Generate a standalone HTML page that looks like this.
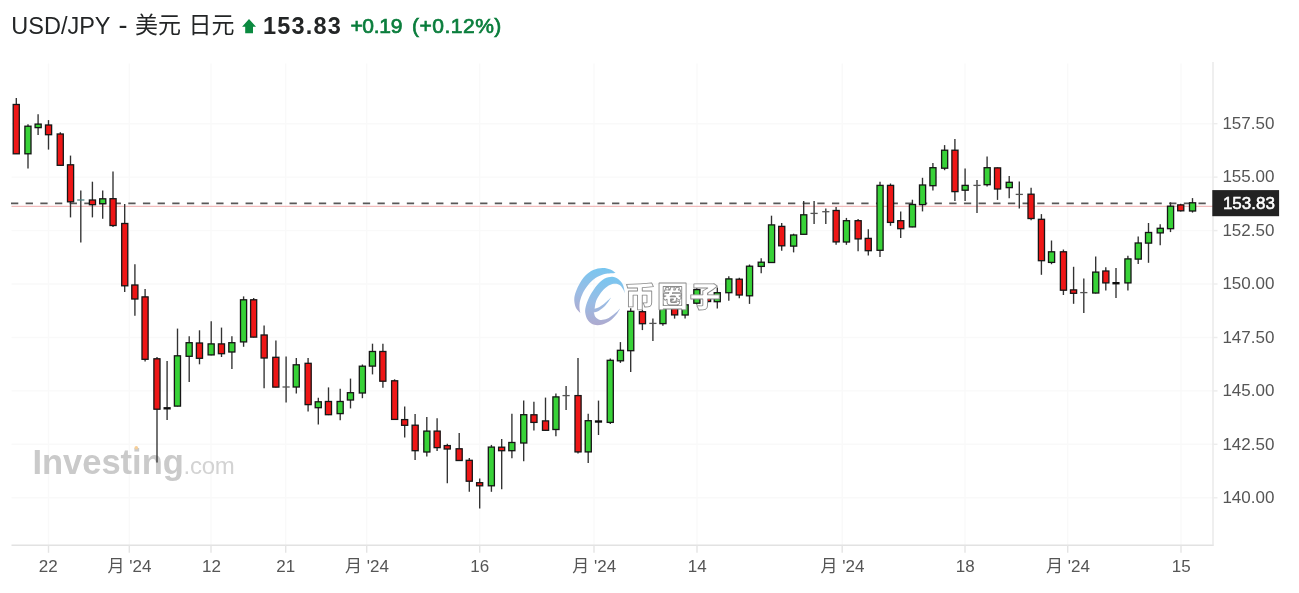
<!DOCTYPE html>
<html lang="zh"><head><meta charset="utf-8"><title>USD/JPY - 美元 日元</title>
<style>
html,body{margin:0;padding:0;background:#fff;}
body{width:1299px;height:593px;overflow:hidden;position:relative;font-family:"Liberation Sans","Noto Sans CJK SC",sans-serif;}
#hdr{position:absolute;left:0;top:0;width:1299px;height:50px;color:#232526;white-space:nowrap;}
#hdr span{position:absolute;white-space:nowrap;line-height:1;}
#t1{left:11.3px;top:14.9px;font-size:23.5px;}
#t1b{left:118.4px;top:12.2px;font-size:27px;}
#t1c{left:135px;top:14.3px;font-size:23px;}
#t1d{left:188.6px;top:14.3px;font-size:23px;}
#t2{left:263px;top:14.8px;font-size:23.5px;font-weight:bold;letter-spacing:1.2px;}
#t3{left:350.4px;top:14.5px;font-size:21px;font-weight:normal;color:#0a7d3c;letter-spacing:-0.3px;-webkit-text-stroke:0.7px #0a7d3c;}
#t4{left:412px;top:14.5px;font-size:21px;font-weight:normal;color:#0a7d3c;letter-spacing:0.5px;-webkit-text-stroke:0.7px #0a7d3c;}
svg{position:absolute;left:0;top:0;}
.ax{font-family:"Liberation Sans","Noto Sans CJK SC",sans-serif;font-size:17px;fill:#555;}
</style></head><body>
<div id="hdr"><span id="t1">USD/JPY</span><span id="t1b">-</span><span id="t1c">美元</span><span id="t1d">日元</span><span id="t2">153.83</span><span id="t3">+0.19</span><span id="t4">(+0.12%)</span></div>
<svg width="1299" height="593" viewBox="0 0 1299 593">
<defs>
<linearGradient id="lg" x1="0" y1="0" x2="0" y2="1"><stop offset="0" stop-color="#78c6f0"/><stop offset="0.55" stop-color="#9bbce4"/><stop offset="1" stop-color="#aeaacf"/></linearGradient>
<filter id="soft" x="-5%" y="-5%" width="110%" height="110%"><feGaussianBlur stdDeviation="0.5"/></filter>
</defs>
<path d="M249 18.9 L256 26.7 L253 26.7 L253 33.3 L245.2 33.3 L245.2 26.7 L242.1 26.7 Z" fill="#0b8a40"/>
<g stroke="#f9f9f9" stroke-width="1.4" fill="none">
<path d="M48.5 63.5V545.3"/>
<path d="M129.3 63.5V545.3"/>
<path d="M211 63.5V545.3"/>
<path d="M285.7 63.5V545.3"/>
<path d="M366.7 63.5V545.3"/>
<path d="M479.7 63.5V545.3"/>
<path d="M594 63.5V545.3"/>
<path d="M697 63.5V545.3"/>
<path d="M842.2 63.5V545.3"/>
<path d="M965 63.5V545.3"/>
<path d="M1067.7 63.5V545.3"/>
<path d="M1181 63.5V545.3"/>
<path d="M11.5 123.7H1213"/>
<path d="M11.5 177.1H1213"/>
<path d="M11.5 230.6H1213"/>
<path d="M11.5 284.0H1213"/>
<path d="M11.5 337.5H1213"/>
<path d="M11.5 390.9H1213"/>
<path d="M11.5 444.3H1213"/>
<path d="M11.5 497.8H1213"/>
</g>
<g stroke-width="1.4" fill="none">
<path d="M11.5 545.3H1213.7" stroke="#e2e2e2"/><path d="M1213 62V545.3" stroke="#e8e8e8"/>
<path d="M48.5 545.3V552.8" stroke="#e4e4e4"/>
<path d="M129.3 545.3V552.8" stroke="#e4e4e4"/>
<path d="M211 545.3V552.8" stroke="#e4e4e4"/>
<path d="M285.7 545.3V552.8" stroke="#e4e4e4"/>
<path d="M366.7 545.3V552.8" stroke="#e4e4e4"/>
<path d="M479.7 545.3V552.8" stroke="#e4e4e4"/>
<path d="M594 545.3V552.8" stroke="#e4e4e4"/>
<path d="M697 545.3V552.8" stroke="#e4e4e4"/>
<path d="M842.2 545.3V552.8" stroke="#e4e4e4"/>
<path d="M965 545.3V552.8" stroke="#e4e4e4"/>
<path d="M1067.7 545.3V552.8" stroke="#e4e4e4"/>
<path d="M1181 545.3V552.8" stroke="#e4e4e4"/>
<path d="M1213 123.7h4.5" stroke="#ececec"/>
<path d="M1213 177.1h4.5" stroke="#ececec"/>
<path d="M1213 230.6h4.5" stroke="#ececec"/>
<path d="M1213 284.0h4.5" stroke="#ececec"/>
<path d="M1213 337.5h4.5" stroke="#ececec"/>
<path d="M1213 390.9h4.5" stroke="#ececec"/>
<path d="M1213 444.3h4.5" stroke="#ececec"/>
<path d="M1213 497.8h4.5" stroke="#ececec"/>
</g>
<g font-family="'Liberation Sans',sans-serif" fill="#c9c9c9"><text x="32.4" y="473.7" font-size="34.5" font-weight="bold" letter-spacing="0" fill="#cacaca">Investing</text><text x="183.6" y="473.7" font-size="24" fill="#d3d3d3" letter-spacing="-0.3">.com</text></g>
<circle cx="136.3" cy="447.8" r="1.8" fill="#f7cf98"/>
<path d="M11.5 206.3H1213" stroke="#eeaaaa" stroke-width="1.0"/>
<path d="M11 203.4H1213" stroke="#585858" stroke-width="1.75" stroke-dasharray="7.3 7.36"/>
<g filter="url(#soft)">
<path d="M16.3 98.1V154.1" stroke="#303030" stroke-width="1.35"/>
<rect x="13.2" y="104.5" width="6.1" height="49.3" fill="#ee1414" stroke="#141414" stroke-width="1.3"/>
<path d="M28.0 124.2V168.5" stroke="#303030" stroke-width="1.35"/>
<rect x="24.9" y="126.2" width="6.1" height="27.6" fill="#38d238" stroke="#141414" stroke-width="1.3"/>
<path d="M38.1 114.2V135.0" stroke="#303030" stroke-width="1.35"/>
<rect x="35.1" y="124.1" width="6.1" height="3.5" fill="#38d238" stroke="#141414" stroke-width="1.3"/>
<path d="M48.5 120.1V149.6" stroke="#303030" stroke-width="1.35"/>
<rect x="45.5" y="125.0" width="6.1" height="9.7" fill="#ee1414" stroke="#141414" stroke-width="1.3"/>
<path d="M60.3 132.3V165.7" stroke="#303030" stroke-width="1.35"/>
<rect x="57.2" y="134.0" width="6.1" height="31.3" fill="#ee1414" stroke="#141414" stroke-width="1.3"/>
<path d="M70.5 155.6V217.4" stroke="#303030" stroke-width="1.35"/>
<rect x="67.5" y="164.8" width="6.1" height="37.0" fill="#ee1414" stroke="#141414" stroke-width="1.3"/>
<path d="M80.8 190.5V242.4" stroke="#303030" stroke-width="1.35"/>
<path d="M77.2 200.0H84.4" stroke="#4d7f7f" stroke-width="1.3"/>
<path d="M92.4 181.7V217.4" stroke="#303030" stroke-width="1.35"/>
<rect x="89.4" y="200.0" width="6.1" height="4.7" fill="#ee1414" stroke="#141414" stroke-width="1.3"/>
<path d="M102.7 190.5V218.7" stroke="#303030" stroke-width="1.35"/>
<rect x="99.7" y="198.8" width="6.1" height="4.9" fill="#38d238" stroke="#141414" stroke-width="1.3"/>
<path d="M113.0 171.5V227.0" stroke="#303030" stroke-width="1.35"/>
<rect x="110.0" y="198.7" width="6.1" height="26.8" fill="#ee1414" stroke="#141414" stroke-width="1.3"/>
<path d="M124.7 204.0V291.9" stroke="#303030" stroke-width="1.35"/>
<rect x="121.7" y="223.5" width="6.1" height="62.3" fill="#ee1414" stroke="#141414" stroke-width="1.3"/>
<path d="M134.9 264.2V315.7" stroke="#303030" stroke-width="1.35"/>
<rect x="131.8" y="285.0" width="6.1" height="14.0" fill="#ee1414" stroke="#141414" stroke-width="1.3"/>
<path d="M145.1 289.0V361.4" stroke="#303030" stroke-width="1.35"/>
<rect x="142.0" y="296.9" width="6.1" height="62.4" fill="#ee1414" stroke="#141414" stroke-width="1.3"/>
<path d="M157.0 356.9V462.6" stroke="#303030" stroke-width="1.35"/>
<rect x="153.9" y="358.8" width="6.1" height="50.4" fill="#ee1414" stroke="#141414" stroke-width="1.3"/>
<path d="M167.1 361.1V420.1" stroke="#303030" stroke-width="1.35"/>
<path d="M163.5 408.3H170.7" stroke="#111" stroke-width="2.4"/>
<path d="M177.5 328.6V406.5" stroke="#303030" stroke-width="1.35"/>
<rect x="174.4" y="355.8" width="6.1" height="50.3" fill="#38d238" stroke="#141414" stroke-width="1.3"/>
<path d="M189.2 336.2V381.9" stroke="#303030" stroke-width="1.35"/>
<rect x="186.1" y="342.7" width="6.1" height="13.6" fill="#38d238" stroke="#141414" stroke-width="1.3"/>
<path d="M199.5 330.3V364.3" stroke="#303030" stroke-width="1.35"/>
<rect x="196.4" y="343.0" width="6.1" height="15.3" fill="#ee1414" stroke="#141414" stroke-width="1.3"/>
<path d="M211.2 321.3V355.3" stroke="#303030" stroke-width="1.35"/>
<rect x="208.1" y="343.9" width="6.1" height="11.0" fill="#38d238" stroke="#141414" stroke-width="1.3"/>
<path d="M221.5 327.6V357.0" stroke="#303030" stroke-width="1.35"/>
<rect x="218.4" y="343.9" width="6.1" height="9.8" fill="#ee1414" stroke="#141414" stroke-width="1.3"/>
<path d="M231.9 336.2V368.9" stroke="#303030" stroke-width="1.35"/>
<rect x="228.8" y="342.7" width="6.1" height="9.3" fill="#38d238" stroke="#141414" stroke-width="1.3"/>
<path d="M243.6 296.4V346.8" stroke="#303030" stroke-width="1.35"/>
<rect x="240.5" y="299.8" width="6.1" height="42.1" fill="#38d238" stroke="#141414" stroke-width="1.3"/>
<path d="M253.7 298.1V337.5" stroke="#303030" stroke-width="1.35"/>
<rect x="250.6" y="299.8" width="6.1" height="37.3" fill="#ee1414" stroke="#141414" stroke-width="1.3"/>
<path d="M264.1 325.6V388.2" stroke="#303030" stroke-width="1.35"/>
<rect x="261.1" y="335.0" width="6.1" height="23.0" fill="#ee1414" stroke="#141414" stroke-width="1.3"/>
<path d="M275.9 340.5V387.5" stroke="#303030" stroke-width="1.35"/>
<rect x="272.8" y="357.3" width="6.1" height="29.8" fill="#ee1414" stroke="#141414" stroke-width="1.3"/>
<path d="M286.1 356.6V402.6" stroke="#303030" stroke-width="1.35"/>
<path d="M282.5 387.0H289.7" stroke="#555" stroke-width="1.3"/>
<path d="M296.3 358.1V393.4" stroke="#303030" stroke-width="1.35"/>
<rect x="293.2" y="364.8" width="6.1" height="22.2" fill="#38d238" stroke="#141414" stroke-width="1.3"/>
<path d="M308.1 358.0V411.4" stroke="#303030" stroke-width="1.35"/>
<rect x="305.1" y="363.3" width="6.1" height="41.3" fill="#ee1414" stroke="#141414" stroke-width="1.3"/>
<path d="M318.3 397.8V424.4" stroke="#303030" stroke-width="1.35"/>
<rect x="315.2" y="401.8" width="6.1" height="5.9" fill="#38d238" stroke="#141414" stroke-width="1.3"/>
<path d="M328.5 387.4V415.1" stroke="#303030" stroke-width="1.35"/>
<rect x="325.4" y="401.5" width="6.1" height="13.2" fill="#ee1414" stroke="#141414" stroke-width="1.3"/>
<path d="M340.2 388.8V420.2" stroke="#303030" stroke-width="1.35"/>
<rect x="337.1" y="401.5" width="6.1" height="12.1" fill="#38d238" stroke="#141414" stroke-width="1.3"/>
<path d="M350.5 378.6V408.4" stroke="#303030" stroke-width="1.35"/>
<rect x="347.4" y="392.7" width="6.1" height="7.3" fill="#38d238" stroke="#141414" stroke-width="1.3"/>
<path d="M362.4 364.5V398.2" stroke="#303030" stroke-width="1.35"/>
<rect x="359.3" y="366.2" width="6.1" height="26.8" fill="#38d238" stroke="#141414" stroke-width="1.3"/>
<path d="M372.5 343.7V374.4" stroke="#303030" stroke-width="1.35"/>
<rect x="369.4" y="351.5" width="6.1" height="14.6" fill="#38d238" stroke="#141414" stroke-width="1.3"/>
<path d="M382.9 343.7V387.7" stroke="#303030" stroke-width="1.35"/>
<rect x="379.8" y="351.5" width="6.1" height="29.7" fill="#ee1414" stroke="#141414" stroke-width="1.3"/>
<path d="M394.6 379.3V419.8" stroke="#303030" stroke-width="1.35"/>
<rect x="391.6" y="380.8" width="6.1" height="38.6" fill="#ee1414" stroke="#141414" stroke-width="1.3"/>
<path d="M404.7 406.6V437.5" stroke="#303030" stroke-width="1.35"/>
<rect x="401.6" y="419.6" width="6.1" height="5.7" fill="#ee1414" stroke="#141414" stroke-width="1.3"/>
<path d="M415.1 414.0V459.9" stroke="#303030" stroke-width="1.35"/>
<rect x="412.1" y="425.2" width="6.1" height="25.5" fill="#ee1414" stroke="#141414" stroke-width="1.3"/>
<path d="M426.8 417.1V456.5" stroke="#303030" stroke-width="1.35"/>
<rect x="423.8" y="431.1" width="6.1" height="20.9" fill="#38d238" stroke="#141414" stroke-width="1.3"/>
<path d="M437.1 418.3V451.1" stroke="#303030" stroke-width="1.35"/>
<rect x="434.1" y="431.1" width="6.1" height="16.5" fill="#ee1414" stroke="#141414" stroke-width="1.3"/>
<path d="M447.3 443.7V483.3" stroke="#303030" stroke-width="1.35"/>
<rect x="444.2" y="445.6" width="6.1" height="3.4" fill="#ee1414" stroke="#141414" stroke-width="1.3"/>
<path d="M459.2 433.0V460.9" stroke="#303030" stroke-width="1.35"/>
<rect x="456.1" y="448.8" width="6.1" height="11.7" fill="#ee1414" stroke="#141414" stroke-width="1.3"/>
<path d="M469.3 458.1V491.8" stroke="#303030" stroke-width="1.35"/>
<rect x="466.2" y="460.3" width="6.1" height="20.9" fill="#ee1414" stroke="#141414" stroke-width="1.3"/>
<path d="M479.7 478.4V508.4" stroke="#303030" stroke-width="1.35"/>
<rect x="476.6" y="482.7" width="6.1" height="3.1" fill="#ee1414" stroke="#141414" stroke-width="1.3"/>
<path d="M491.4 444.9V491.8" stroke="#303030" stroke-width="1.35"/>
<rect x="488.3" y="447.1" width="6.1" height="38.7" fill="#38d238" stroke="#141414" stroke-width="1.3"/>
<path d="M501.7 439.0V489.2" stroke="#303030" stroke-width="1.35"/>
<rect x="498.6" y="447.2" width="6.1" height="3.5" fill="#ee1414" stroke="#141414" stroke-width="1.3"/>
<path d="M511.9 413.7V458.2" stroke="#303030" stroke-width="1.35"/>
<rect x="508.8" y="442.5" width="6.1" height="8.2" fill="#38d238" stroke="#141414" stroke-width="1.3"/>
<path d="M523.7 400.6V461.2" stroke="#303030" stroke-width="1.35"/>
<rect x="520.7" y="414.7" width="6.1" height="28.3" fill="#38d238" stroke="#141414" stroke-width="1.3"/>
<path d="M533.9 401.8V430.4" stroke="#303030" stroke-width="1.35"/>
<rect x="530.9" y="414.8" width="6.1" height="7.6" fill="#ee1414" stroke="#141414" stroke-width="1.3"/>
<path d="M545.5 397.6V430.7" stroke="#303030" stroke-width="1.35"/>
<rect x="542.5" y="420.9" width="6.1" height="9.4" fill="#ee1414" stroke="#141414" stroke-width="1.3"/>
<path d="M555.9 393.4V436.2" stroke="#303030" stroke-width="1.35"/>
<rect x="552.9" y="396.9" width="6.1" height="32.6" fill="#38d238" stroke="#141414" stroke-width="1.3"/>
<path d="M566.1 386.1V410.1" stroke="#303030" stroke-width="1.35"/>
<path d="M562.5 395.6H569.7" stroke="#555" stroke-width="1.3"/>
<path d="M578.0 358.1V453.6" stroke="#303030" stroke-width="1.35"/>
<rect x="575.0" y="395.6" width="6.1" height="56.3" fill="#ee1414" stroke="#141414" stroke-width="1.3"/>
<path d="M588.2 413.8V462.9" stroke="#303030" stroke-width="1.35"/>
<rect x="585.2" y="420.7" width="6.1" height="31.2" fill="#38d238" stroke="#141414" stroke-width="1.3"/>
<path d="M598.5 400.6V435.0" stroke="#303030" stroke-width="1.35"/>
<path d="M594.9 421.5H602.1" stroke="#111" stroke-width="2.4"/>
<path d="M610.3 358.6V424.1" stroke="#303030" stroke-width="1.35"/>
<rect x="607.2" y="360.3" width="6.1" height="62.1" fill="#38d238" stroke="#141414" stroke-width="1.3"/>
<path d="M620.4 342.1V362.9" stroke="#303030" stroke-width="1.35"/>
<rect x="617.4" y="350.3" width="6.1" height="10.5" fill="#38d238" stroke="#141414" stroke-width="1.3"/>
<path d="M630.7 308.3V371.9" stroke="#303030" stroke-width="1.35"/>
<rect x="627.7" y="311.3" width="6.1" height="39.4" fill="#38d238" stroke="#141414" stroke-width="1.3"/>
<path d="M642.4 309.8V330.1" stroke="#303030" stroke-width="1.35"/>
<rect x="639.4" y="311.7" width="6.1" height="12.0" fill="#ee1414" stroke="#141414" stroke-width="1.3"/>
<path d="M652.9 318.4V341.1" stroke="#303030" stroke-width="1.35"/>
<path d="M649.3 323.4H656.5" stroke="#555" stroke-width="1.3"/>
<path d="M662.9 303.8V325.8" stroke="#303030" stroke-width="1.35"/>
<rect x="659.9" y="306.3" width="6.1" height="17.3" fill="#38d238" stroke="#141414" stroke-width="1.3"/>
<path d="M674.6 299.8V318.6" stroke="#303030" stroke-width="1.35"/>
<rect x="671.6" y="303.3" width="6.1" height="11.6" fill="#ee1414" stroke="#141414" stroke-width="1.3"/>
<path d="M685.1 301.8V318.6" stroke="#303030" stroke-width="1.35"/>
<rect x="682.1" y="304.8" width="6.1" height="10.2" fill="#38d238" stroke="#141414" stroke-width="1.3"/>
<path d="M696.8 287.8V304.4" stroke="#303030" stroke-width="1.35"/>
<rect x="693.8" y="289.6" width="6.1" height="13.6" fill="#38d238" stroke="#141414" stroke-width="1.3"/>
<path d="M707.5 288.3V302.9" stroke="#303030" stroke-width="1.35"/>
<rect x="704.5" y="296.8" width="6.1" height="4.7" fill="#ee1414" stroke="#141414" stroke-width="1.3"/>
<path d="M717.3 287.6V308.5" stroke="#303030" stroke-width="1.35"/>
<rect x="714.2" y="292.7" width="6.1" height="9.0" fill="#38d238" stroke="#141414" stroke-width="1.3"/>
<path d="M728.8 276.3V300.7" stroke="#303030" stroke-width="1.35"/>
<rect x="725.8" y="278.9" width="6.1" height="13.8" fill="#38d238" stroke="#141414" stroke-width="1.3"/>
<path d="M739.3 277.8V298.2" stroke="#303030" stroke-width="1.35"/>
<rect x="736.2" y="279.2" width="6.1" height="15.8" fill="#ee1414" stroke="#141414" stroke-width="1.3"/>
<path d="M749.5 264.5V303.9" stroke="#303030" stroke-width="1.35"/>
<rect x="746.5" y="266.2" width="6.1" height="29.6" fill="#38d238" stroke="#141414" stroke-width="1.3"/>
<path d="M761.2 258.3V273.3" stroke="#303030" stroke-width="1.35"/>
<rect x="758.2" y="262.2" width="6.1" height="4.2" fill="#38d238" stroke="#141414" stroke-width="1.3"/>
<path d="M771.5 215.7V262.9" stroke="#303030" stroke-width="1.35"/>
<rect x="768.5" y="224.9" width="6.1" height="37.6" fill="#38d238" stroke="#141414" stroke-width="1.3"/>
<path d="M781.7 223.0V250.7" stroke="#303030" stroke-width="1.35"/>
<rect x="778.7" y="226.4" width="6.1" height="19.4" fill="#ee1414" stroke="#141414" stroke-width="1.3"/>
<path d="M793.6 233.7V252.4" stroke="#303030" stroke-width="1.35"/>
<rect x="790.6" y="235.0" width="6.1" height="11.1" fill="#38d238" stroke="#141414" stroke-width="1.3"/>
<path d="M803.7 201.0V234.6" stroke="#303030" stroke-width="1.35"/>
<rect x="800.7" y="214.8" width="6.1" height="19.5" fill="#38d238" stroke="#141414" stroke-width="1.3"/>
<path d="M814.1 201.0V224.1" stroke="#303030" stroke-width="1.35"/>
<path d="M810.5 213.4H817.7" stroke="#555" stroke-width="1.3"/>
<path d="M825.8 208.6V224.1" stroke="#303030" stroke-width="1.35"/>
<path d="M822.2 211.7H829.4" stroke="#555" stroke-width="1.3"/>
<path d="M836.1 206.9V244.8" stroke="#303030" stroke-width="1.35"/>
<rect x="833.1" y="210.5" width="6.1" height="31.4" fill="#ee1414" stroke="#141414" stroke-width="1.3"/>
<path d="M846.4 217.9V244.8" stroke="#303030" stroke-width="1.35"/>
<rect x="843.4" y="220.7" width="6.1" height="21.3" fill="#38d238" stroke="#141414" stroke-width="1.3"/>
<path d="M858.1 219.1V251.2" stroke="#303030" stroke-width="1.35"/>
<rect x="855.1" y="220.7" width="6.1" height="18.2" fill="#ee1414" stroke="#141414" stroke-width="1.3"/>
<path d="M868.3 229.3V255.5" stroke="#303030" stroke-width="1.35"/>
<rect x="865.2" y="238.4" width="6.1" height="12.3" fill="#ee1414" stroke="#141414" stroke-width="1.3"/>
<path d="M880.0 181.8V257.0" stroke="#303030" stroke-width="1.35"/>
<rect x="877.0" y="185.4" width="6.1" height="64.9" fill="#38d238" stroke="#141414" stroke-width="1.3"/>
<path d="M890.5 183.5V225.8" stroke="#303030" stroke-width="1.35"/>
<rect x="887.5" y="185.4" width="6.1" height="37.0" fill="#ee1414" stroke="#141414" stroke-width="1.3"/>
<path d="M900.7 211.6V238.0" stroke="#303030" stroke-width="1.35"/>
<rect x="897.7" y="220.7" width="6.1" height="8.0" fill="#ee1414" stroke="#141414" stroke-width="1.3"/>
<path d="M912.4 199.7V227.3" stroke="#303030" stroke-width="1.35"/>
<rect x="909.4" y="204.5" width="6.1" height="22.4" fill="#38d238" stroke="#141414" stroke-width="1.3"/>
<path d="M922.5 177.8V211.4" stroke="#303030" stroke-width="1.35"/>
<rect x="919.5" y="185.0" width="6.1" height="19.6" fill="#38d238" stroke="#141414" stroke-width="1.3"/>
<path d="M932.9 162.9V190.6" stroke="#303030" stroke-width="1.35"/>
<rect x="929.9" y="167.7" width="6.1" height="18.0" fill="#38d238" stroke="#141414" stroke-width="1.3"/>
<path d="M944.6 145.1V170.2" stroke="#303030" stroke-width="1.35"/>
<rect x="941.6" y="150.2" width="6.1" height="18.0" fill="#38d238" stroke="#141414" stroke-width="1.3"/>
<path d="M954.9 139.1V201.1" stroke="#303030" stroke-width="1.35"/>
<rect x="951.9" y="150.2" width="6.1" height="41.4" fill="#ee1414" stroke="#141414" stroke-width="1.3"/>
<path d="M965.1 168.4V201.1" stroke="#303030" stroke-width="1.35"/>
<rect x="962.1" y="185.4" width="6.1" height="4.8" fill="#38d238" stroke="#141414" stroke-width="1.3"/>
<path d="M977.0 180.1V213.1" stroke="#303030" stroke-width="1.35"/>
<path d="M973.4 185.4H980.6" stroke="#555" stroke-width="1.3"/>
<path d="M987.1 156.6V186.4" stroke="#303030" stroke-width="1.35"/>
<rect x="984.1" y="167.7" width="6.1" height="17.0" fill="#38d238" stroke="#141414" stroke-width="1.3"/>
<path d="M997.5 167.4V199.9" stroke="#303030" stroke-width="1.35"/>
<rect x="994.5" y="167.9" width="6.1" height="21.1" fill="#ee1414" stroke="#141414" stroke-width="1.3"/>
<path d="M1009.2 175.9V198.2" stroke="#303030" stroke-width="1.35"/>
<rect x="1006.2" y="182.3" width="6.1" height="5.3" fill="#38d238" stroke="#141414" stroke-width="1.3"/>
<path d="M1019.3 181.5V208.6" stroke="#303030" stroke-width="1.35"/>
<path d="M1015.7 194.4H1022.9" stroke="#555" stroke-width="1.3"/>
<path d="M1031.1 187.7V220.2" stroke="#303030" stroke-width="1.35"/>
<rect x="1028.0" y="194.2" width="6.1" height="24.3" fill="#ee1414" stroke="#141414" stroke-width="1.3"/>
<path d="M1041.4 214.1V274.8" stroke="#303030" stroke-width="1.35"/>
<rect x="1038.4" y="219.3" width="6.1" height="41.4" fill="#ee1414" stroke="#141414" stroke-width="1.3"/>
<path d="M1051.5 240.5V264.2" stroke="#303030" stroke-width="1.35"/>
<rect x="1048.5" y="251.8" width="6.1" height="10.6" fill="#38d238" stroke="#141414" stroke-width="1.3"/>
<path d="M1063.4 249.5V295.0" stroke="#303030" stroke-width="1.35"/>
<rect x="1060.4" y="251.8" width="6.1" height="38.4" fill="#ee1414" stroke="#141414" stroke-width="1.3"/>
<path d="M1073.6 266.8V303.8" stroke="#303030" stroke-width="1.35"/>
<rect x="1070.5" y="289.9" width="6.1" height="3.4" fill="#ee1414" stroke="#141414" stroke-width="1.3"/>
<path d="M1083.8 278.5V313.0" stroke="#303030" stroke-width="1.35"/>
<path d="M1080.2 292.6H1087.4" stroke="#555" stroke-width="1.3"/>
<path d="M1095.7 256.6V293.4" stroke="#303030" stroke-width="1.35"/>
<rect x="1092.7" y="272.1" width="6.1" height="20.9" fill="#38d238" stroke="#141414" stroke-width="1.3"/>
<path d="M1105.8 267.2V290.6" stroke="#303030" stroke-width="1.35"/>
<rect x="1102.8" y="271.0" width="6.1" height="11.9" fill="#ee1414" stroke="#141414" stroke-width="1.3"/>
<path d="M1116.0 268.0V298.1" stroke="#303030" stroke-width="1.35"/>
<path d="M1112.4 283.2H1119.6" stroke="#111" stroke-width="2.4"/>
<path d="M1127.9 255.7V290.6" stroke="#303030" stroke-width="1.35"/>
<rect x="1124.9" y="258.9" width="6.1" height="24.0" fill="#38d238" stroke="#141414" stroke-width="1.3"/>
<path d="M1138.2 236.6V264.1" stroke="#303030" stroke-width="1.35"/>
<rect x="1135.2" y="243.0" width="6.1" height="16.1" fill="#38d238" stroke="#141414" stroke-width="1.3"/>
<path d="M1148.5 223.0V262.8" stroke="#303030" stroke-width="1.35"/>
<rect x="1145.5" y="232.5" width="6.1" height="10.6" fill="#38d238" stroke="#141414" stroke-width="1.3"/>
<path d="M1160.2 224.2V245.3" stroke="#303030" stroke-width="1.35"/>
<rect x="1157.2" y="228.3" width="6.1" height="4.6" fill="#38d238" stroke="#141414" stroke-width="1.3"/>
<path d="M1170.5 202.3V232.1" stroke="#303030" stroke-width="1.35"/>
<rect x="1167.5" y="206.2" width="6.1" height="22.5" fill="#38d238" stroke="#141414" stroke-width="1.3"/>
<path d="M1180.7 203.8V211.6" stroke="#303030" stroke-width="1.35"/>
<rect x="1177.7" y="204.9" width="6.1" height="5.9" fill="#ee1414" stroke="#141414" stroke-width="1.3"/>
<path d="M1192.5 198.1V212.6" stroke="#303030" stroke-width="1.35"/>
<rect x="1189.5" y="202.8" width="6.1" height="8.2" fill="#38d238" stroke="#141414" stroke-width="1.3"/>
</g>
<g id="wm" fill="url(#lg)"><path d="M615.6 272.9C614.7 272.3 612.6 270.3 610.4 269.5C608.2 268.6 605.3 267.9 602.4 268.0C599.5 268.1 596.1 268.7 593.2 270.0C590.4 271.3 587.6 273.3 585.2 275.8C582.8 278.2 580.6 281.9 578.9 284.9C577.2 288.0 575.9 291.4 575.1 294.1C574.3 296.8 574.2 298.7 574.3 301.0C574.5 303.3 575.0 305.9 576.0 307.9C577.0 309.9 579.7 312.2 580.4 313.0C580.2 312.2 579.5 309.9 579.5 307.9C579.4 305.9 579.5 303.5 580.0 301.0C580.6 298.5 581.6 295.6 582.9 293.0C584.2 290.3 586.0 287.4 588.1 284.9C590.2 282.5 592.8 279.9 595.5 278.1C598.3 276.2 601.4 274.9 604.7 274.0C608.0 273.2 613.8 273.1 615.6 272.9Z"/><path d="M625.0 293.5C624.7 292.1 624.1 287.3 623.0 284.9C622.0 282.5 620.3 280.6 618.5 279.2C616.6 277.8 614.4 276.8 612.2 276.7C609.9 276.6 607.2 277.3 604.7 278.6C602.2 280.0 599.5 282.4 597.2 284.9C594.9 287.5 592.8 290.9 590.9 294.1C589.1 297.4 587.3 301.4 586.3 304.4C585.4 307.5 584.9 309.8 585.2 312.5C585.5 315.1 586.5 318.4 588.1 320.5C589.6 322.6 592.0 324.2 594.4 324.8C596.8 325.5 599.7 325.2 602.4 324.5C605.1 323.8 608.1 322.1 610.4 320.5C612.7 318.9 614.5 316.8 616.2 314.8C617.8 312.7 619.5 309.5 620.2 308.4C619.1 309.4 616.1 312.5 613.9 314.2C611.7 315.9 609.3 317.8 607.0 318.8C604.7 319.7 602.0 320.2 600.1 319.9C598.2 319.6 596.6 318.3 595.5 317.0C594.5 315.8 594.1 313.2 593.8 312.5C594.7 312.2 597.0 312.0 599.0 310.7C601.0 309.5 603.8 307.2 605.8 305.0C607.9 302.8 610.4 298.6 611.3 297.3C610.2 298.3 606.8 301.6 604.7 303.3C602.6 304.9 600.6 306.4 599.0 307.3C597.3 308.2 595.3 308.5 594.6 308.8C594.9 307.5 595.1 303.6 596.1 301.0C597.1 298.4 598.9 295.4 600.7 293.0C602.5 290.6 604.8 288.2 607.0 286.7C609.2 285.1 611.8 284.1 613.9 283.8C616.0 283.5 618.1 284.1 619.6 284.9C621.1 285.8 622.1 287.5 623.0 288.9C623.9 290.4 624.7 292.8 625.0 293.5Z"/></g>
<text transform="translate(624.4,307.3) scale(1,0.92)" x="0" y="0" font-family="'Noto Sans CJK SC','WenQuanYi Zen Hei',sans-serif" font-weight="900" font-size="31" letter-spacing="1.6" fill="#ffffff" stroke="#8c8c8c" stroke-width="0.9" stroke-linejoin="round">币圈子</text>
<rect x="1212.3" y="190.1" width="66.8" height="26.1" fill="#222222"/>
<text x="1222.9" y="209" font-family="'Liberation Sans',sans-serif" font-size="17" fill="#ffffff" stroke="#ffffff" stroke-width="0.55" letter-spacing="0">153.83</text>
<text class="ax" x="1222.4" y="129.0">157.50</text>
<text class="ax" x="1222.4" y="182.4">155.00</text>
<text class="ax" x="1222.4" y="235.9">152.50</text>
<text class="ax" x="1222.4" y="289.3">150.00</text>
<text class="ax" x="1222.4" y="342.8">147.50</text>
<text class="ax" x="1222.4" y="396.2">145.00</text>
<text class="ax" x="1222.4" y="449.6">142.50</text>
<text class="ax" x="1222.4" y="503.1">140.00</text>
<text class="ax" x="48.3" y="571.7" text-anchor="middle">22</text>
<text class="ax" x="129.5" y="571.7" text-anchor="middle">月 '24</text>
<text class="ax" x="211.5" y="571.7" text-anchor="middle">12</text>
<text class="ax" x="285.7" y="571.7" text-anchor="middle">21</text>
<text class="ax" x="367" y="571.7" text-anchor="middle">月 '24</text>
<text class="ax" x="479.7" y="571.7" text-anchor="middle">16</text>
<text class="ax" x="594.3" y="571.7" text-anchor="middle">月 '24</text>
<text class="ax" x="697.3" y="571.7" text-anchor="middle">14</text>
<text class="ax" x="842.5" y="571.7" text-anchor="middle">月 '24</text>
<text class="ax" x="965.3" y="571.7" text-anchor="middle">18</text>
<text class="ax" x="1068" y="571.7" text-anchor="middle">月 '24</text>
<text class="ax" x="1181.3" y="571.7" text-anchor="middle">15</text>
</svg></body></html>
